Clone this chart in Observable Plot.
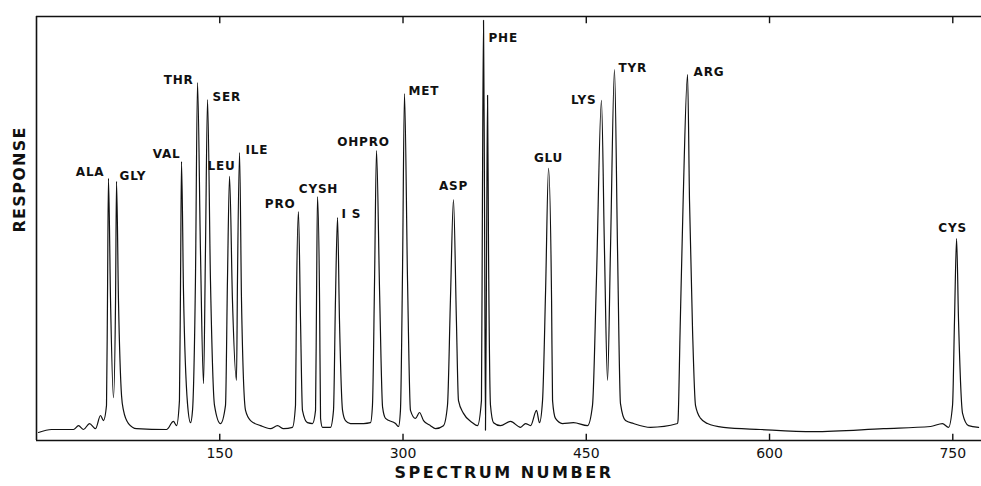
<!DOCTYPE html>
<html><head><meta charset="utf-8">
<script src="https://cdn.jsdelivr.net/npm/d3@7"></script>
<script src="https://cdn.jsdelivr.net/npm/@observablehq/plot@0.6"></script>
<style>html,body{margin:0;padding:0;background:#fff;overflow:hidden}</style>
</head><body><div id="chart"></div>
<script>
const spectrum = [1.6,12.3,30.3,34.4,38.5,43.4,48.3,52.4,54.8,57.3,58.1,58.9,60.6,63.0,64.7,65.5,67.1,69.6,71.2,75.3,81.9,106.4,112.1,114.6,117.0,117.9,118.7,120.3,123.6,126.1,127.7,130.1,131.8,134.2,136.7,138.3,140.0,142.4,145.7,150.6,154.7,156.3,158.0,160.4,163.7,164.5,166.2,167.8,171.1,175.2,183.4,191.5,197.3,202.2,209.5,212.0,212.8,214.4,216.1,217.7,221.8,225.9,228.4,229.2,230.0,231.7,232.5,234.1,240.6,243.1,244.7,246.4,248.0,250.5,252.9,257.0,267.7,273.4,275.0,276.7,278.3,280.8,283.3,285.7,293.9,296.3,297.9,299.6,301.2,303.7,306.1,310.2,313.5,316.8,322.5,326.6,333.1,336.4,338.8,341.3,343.7,345.4,349.5,356.8,360.9,364.2,365.0,365.9,366.7,367.5,368.4,369.2,370.0,371.6,374.1,379.8,388.0,396.2,400.3,404.4,409.3,411.7,414.2,416.7,419.1,421.6,422.4,424.8,430.5,439.5,451.0,455.1,458.3,462.4,464.9,467.4,469.8,473.1,475.6,478.0,482.1,488.7,502.6,524.7,525.1,526.8,529.3,532.9,534.5,537.0,539.4,543.6,549.2,562.3,592.6,636.0,693.3,731.8,741.6,746.5,749.8,751.4,753.1,754.7,758.0,762.9,771.1];
const response = [1.9,2.6,2.6,3.5,2.6,4.0,2.8,5.9,4.7,8.3,33.0,61.8,33.0,10.1,33.0,61.1,33.0,10.6,7.1,4.0,2.8,2.6,4.5,3.5,9.4,37.7,65.8,35.4,8.7,4.2,7.1,37.7,84.4,44.8,13.4,44.8,80.4,37.7,8.3,4.0,8.3,37.7,62.3,33.0,14.2,37.7,67.9,33.0,7.1,4.7,3.5,2.8,3.5,2.8,3.1,8.3,33.0,54.0,28.3,7.1,4.2,4.0,7.1,33.0,57.5,33.0,5.2,3.1,3.1,7.1,33.0,52.6,28.3,7.1,4.7,4.0,4.0,4.2,8.3,37.7,68.4,35.4,7.8,5.2,4.0,3.3,7.1,40.1,81.8,37.7,7.1,5.2,6.6,4.7,3.5,2.8,3.5,8.3,33.0,56.8,28.3,9.4,6.4,4.2,3.5,9.4,56.6,99.1,56.6,2.4,44.8,81.4,44.8,8.3,4.2,3.5,4.5,3.1,4.0,3.5,7.1,4.2,9.4,35.4,64.2,33.0,9.4,5.2,4.0,4.2,3.5,8.3,37.7,80.2,44.8,14.2,44.8,87.5,44.8,8.7,4.7,4.0,3.1,4.0,4.7,25.9,56.6,86.3,56.6,25.9,8.3,5.2,4.0,3.1,2.6,2.1,2.8,3.3,4.0,3.1,8.3,28.3,47.6,28.3,6.4,3.5,3.1];

// Peak identifications
const peakNames = ["ALA","GLY","VAL","THR","SER","LEU","ILE","PRO","CYSH","I S","OHPRO","MET","ASP","PHE","GLU","LYS","TYR","ARG","CYS"];
const peakSpectrum = [58.9,65.5,118.7,131.8,140.0,158.0,166.2,214.4,230.0,246.4,278.3,301.2,341.3,365.9,419.1,462.4,473.1,532.9,753.1];
const peakResponse = [61.8,61.1,65.8,84.4,80.4,62.3,67.9,54.0,57.5,52.6,68.4,81.8,56.8,99.1,64.2,80.2,87.5,86.3,47.6];

const tickValues = [150,300,450,600,750];
const xLabel = "SPECTRUM NUMBER";
const yLabel = "RESPONSE";

// ---- layout (styles only) ----
const labelLayout = {
  "ALA":["end",-4,-2], "GLY":["start",3,-1], "VAL":["end",-1,-4], "THR":["end",-4,1],
  "SER":["start",5,1], "LEU":["middle",-8,-6], "ILE":["start",6,1], "PRO":["end",-3,-4],
  "CYSH":["middle",1,-4], "I S":["start",4,1], "OHPRO":["middle",-13,-4], "MET":["start",4,1],
  "ASP":["middle",0,-10], "PHE":["start",5,22], "GLU":["middle",0,-6], "LYS":["end",-5,4],
  "TYR":["start",4,2], "ARG":["start",6,1], "CYS":["middle",-4,-7]
};
const ink = "#111";
const font = "'DejaVu Sans', sans-serif";

const trace = spectrum.map((x, i) => ({x, y: response[i]}));
const peaks = peakNames.map((name, i) => ({name, x: peakSpectrum[i], y: peakResponse[i]}));

const plot = Plot.plot({
  width: 981, height: 486,
  marginLeft: 36, marginRight: 0, marginTop: 16, marginBottom: 46,
  x: {domain: [0, 773.5], axis: null},
  y: {domain: [0, 100], axis: null},
  style: {fontFamily: font, background: "#fff", color: ink},
  marks: [
    Plot.ruleY([0], {stroke: ink, strokeWidth: 1.6}),
    Plot.ruleY([100], {stroke: ink, strokeWidth: 1.6}),
    Plot.ruleX([0], {stroke: ink, strokeWidth: 1.6}),
    Plot.ruleX(tickValues, {x: d => d, y1: 0, y2: 1.5, stroke: ink, strokeWidth: 1.4}),
    Plot.ruleX(tickValues, {x: d => d, y1: 100, y2: 98.3, stroke: ink, strokeWidth: 1.4}),
    Plot.text(tickValues, {x: d => d, y: 0, dy: 13, text: d => String(d), fontSize: 14, fill: ink}),
    Plot.line(trace, {x: "x", y: "y", stroke: ink, strokeWidth: 1.2, curve: "monotone-x"}),
    ...peaks.map(p => Plot.text([p], {
      x: "x", y: "y", text: "name", lineAnchor: "bottom",
      textAnchor: labelLayout[p.name][0], dx: labelLayout[p.name][1], dy: labelLayout[p.name][2],
      fontSize: 12, fontWeight: "bold", fill: ink
    })),
    Plot.text([xLabel], {frameAnchor: "bottom", dx: -5, dy: 37, text: d => d, fontSize: 16, fontWeight: "bold", fill: ink}),
    Plot.text([yLabel], {frameAnchor: "left", dx: -17, dy: 4, rotate: -90, text: d => d, fontSize: 16, fontWeight: "bold", fill: ink})
  ]
});

plot.querySelectorAll("text").forEach(t => {
  const s = t.textContent;
  if (s === xLabel) t.setAttribute("letter-spacing", "2.5");
  else if (s === yLabel) t.setAttribute("letter-spacing", "1.3");
  else if (peakNames.includes(s)) t.setAttribute("letter-spacing", "0.8");
});
document.getElementById("chart").appendChild(plot);
</script>
</body></html>
